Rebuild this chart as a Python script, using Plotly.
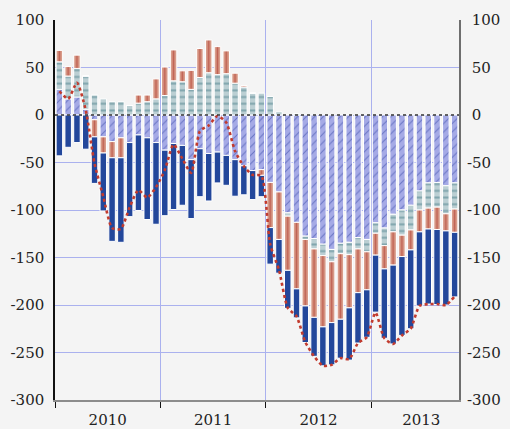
import plotly.graph_objects as go

# Monthly observations, Jan 2010 - Oct 2013
months = list(range(46))
year_labels = ["2010", "2011", "2012", "2013"]
year_label_pos = [5.5, 17.5, 29.5, 41.2]
year_bounds = [-0.5, 11.5, 23.5, 35.5]
y_ticks = [-300, -250, -200, -150, -100, -50, 0, 50, 100]
y_ticktext = ["-300", "-250", "-200", "-150", "-100", "-50", "0", "50", "100"]

hatched = [27, 17, 19, 6, -5, -23, -28, -24, -29, -21, -24, -29,
           -37, -30, -32, -47, -35.5, -40.5, -39, -42.5, -47, -53.5, -58.5, -57.5,
           -71, -81, -103, -113, -127.5, -130, -136, -141.5, -135, -134, -129, -131,
           -113.5, -119, -104.5, -100, -95, -80, -71.5, -71, -74.5, -71.5]
grey = [29, 24, 30, 35, 21, 17, 14, 14, 10, 12.5, 14, 17,
        20.5, 36, 35, 27, 39.5, 44.5, 42.5, 43.5, 33.5, 29.5, 23, 23,
        19.5, 3.5, -3.5, 1.5, -3.5, -11, -12, -13, -11, -13, -12, -13,
        -11, -18.5, -18.5, -26.5, -26, -20, -26.5, -26, -29.5, -27.5]
salmon = [12, 10, 14, 0, -18, -17, -17, -21, 0, 8.5, 7, 21,
          30, 32.5, 11.5, 20, 30.5, 34.5, 29.5, 24, 10.5, 1.5, 0, -6,
          -47.5, -50, -57, -70, -70, -72, -75, -64, -69, -56, -46, -40,
          -23, -24.5, -35, -22.5, -21, -23, -22, -23.5, -18, -24.5]
blue = [-43, -34, -29, -36, -49, -61, -88, -89, -78, -79.5, -86, -86,
        -69, -69.5, -63, -62, -50.5, -50, -32.5, -31.5, -38.5, -30.5, -30.5, -22.5,
        -38.5, -35.5, -40, -30.5, -38.5, -41, -41, -44.5, -41, -55, -53, -50,
        -60, -73, -83, -83, -83, -78, -79, -79, -78, -68]
total = [25, 17, 34, 5, -51, -86, -119, -120, -97, -79, -87, -76,
         -58, -31, -46, -61, -17, -11, -1, -8, -38, -54, -63, -64,
         -136, -163, -203, -212, -239, -254, -264, -263, -256, -257, -240, -234,
         -208, -235, -241, -232, -225, -201, -199, -199, -200, -191]

FONT = "DejaVu Serif"
FS = 15
GRID = "#aab1ee"
slot = 404 / 46.0
# right-axis labels: positives padded so their digits line up after the minus sign column
right_text = [t if t.startswith("-") else "\u00a0" + t for t in y_ticktext]

fig = go.Figure()
outline = dict(color="white", width=1)
fig.add_trace(go.Bar(
    x=months, y=hatched,
    marker=dict(color="#a5aae6", line=outline,
                pattern=dict(shape="/", fgcolor="#2f41a2", bgcolor="#a5aae6",
                             size=6, solidity=0.18))))
fig.add_trace(go.Bar(
    x=months, y=grey,
    marker=dict(color="#bbcfd3", line=outline,
                pattern=dict(shape="-", fgcolor="#457b87", bgcolor="#bbcfd3",
                             size=6.7, solidity=0.3))))
fig.add_trace(go.Bar(
    x=months, y=salmon,
    marker=dict(color="#d89b89", line=outline,
                pattern=dict(shape="|", fgcolor="#a8291d", bgcolor="#d89b89",
                             size=slot, solidity=0.2))))
fig.add_trace(go.Bar(
    x=months, y=blue,
    marker=dict(color="#23479b", line=outline)))
fig.add_trace(go.Scatter(
    x=months, y=total, mode="lines",
    line=dict(color="#c23b2e", width=2.6, dash="dot", shape="spline", smoothing=0.6)))
fig.add_trace(go.Scatter(x=[0], y=[0], yaxis="y2", mode="markers",
                         marker=dict(opacity=0), hoverinfo="skip"))

fig.add_shape(type="line", x0=-0.5, x1=45.5, y0=0, y1=0, xref="x", yref="y",
              line=dict(color="#333333", width=1.3, dash="dot"), layer="above")

fig.update_layout(
    width=510, height=429, autosize=False,
    margin=dict(l=55, r=51, t=20, b=29, autoexpand=False),
    paper_bgcolor="#f4f4f4", plot_bgcolor="#f4f4f4",
    barmode="relative", bargap=0.26, showlegend=False,
    font=dict(family=FONT, size=FS, color="#222222"),
    xaxis=dict(range=[-0.5, 45.5], tickmode="array", tickvals=year_label_pos,
               ticktext=year_labels, ticks="", showgrid=False, zeroline=False,
               showline=True, linecolor="#8c8c8c", linewidth=2, automargin=False,
               ticklabelstandoff=5,
               tickfont=dict(family=FONT, size=FS, color="#222222"),
               minor=dict(tickmode="array", tickvals=year_bounds, ticks="outside",
                          ticklen=6, tickcolor="#111111", tickwidth=1.2,
                          showgrid=True, gridcolor=GRID, gridwidth=1)),
    yaxis=dict(range=[-300, 100], tickmode="array", tickvals=y_ticks, ticktext=y_ticktext,
               showgrid=True, gridcolor=GRID,
               gridwidth=1, zeroline=False, showline=True, linecolor="#111111",
               linewidth=1.5, ticks="", ticklabelstandoff=6, automargin=False,
               tickfont=dict(family=FONT, size=FS, color="#222222")),
    yaxis2=dict(range=[-300, 100], tickmode="array", tickvals=y_ticks, ticktext=right_text,
                overlaying="y", side="right",
                showgrid=False, zeroline=False, showline=True, linecolor="#6e6e6e",
                linewidth=2, ticks="", ticklabelstandoff=3, automargin=False,
                tickfont=dict(family=FONT, size=FS, color="#222222")),
)

fig.write_html("out.html", config={"displayModeBar": False},
               post_script="document.body.style.margin='0';document.body.style.background='#f4f4f4';")
